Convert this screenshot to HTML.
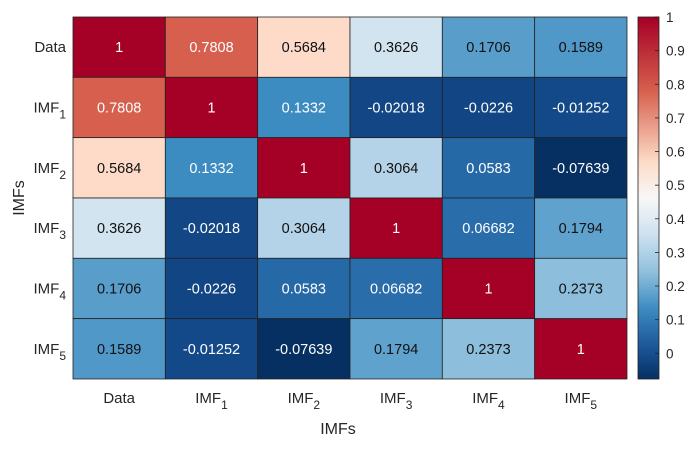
<!DOCTYPE html>
<html><head><meta charset="utf-8"><style>
body{margin:0;background:#fff;font-family:"Liberation Sans",Arial,sans-serif}
svg text{font-family:"Liberation Sans",Arial,sans-serif}
</style></head><body>
<svg id="chart" width="694" height="444">
<defs><linearGradient id="cbg" x1="0" y1="1" x2="0" y2="0"></linearGradient></defs>
<g id="cells"></g><g id="rowlabels"></g><g id="collabels"></g>
<rect x="638" y="17" width="21" height="362" fill="url(#cbg)" stroke="#222" stroke-width="0.8"/>
<g id="cbticks"></g>
<text x="338" y="434" font-size="16" fill="#262626" text-anchor="middle">IMFs</text>
<text transform="translate(24,198) rotate(-90)" font-size="16" fill="#262626" text-anchor="middle">IMFs</text>
</svg>
<script>
const labels = ["Data","IMF1","IMF2","IMF3","IMF4","IMF5"];
const row0 = [1,0.7808,0.5684,0.3626,0.1706,0.1589];
const row1 = [0.7808,1,0.1332,-0.02018,-0.0226,-0.01252];
const row2 = [0.5684,0.1332,1,0.3064,0.0583,-0.07639];
const row3 = [0.3626,-0.02018,0.3064,1,0.06682,0.1794];
const row4 = [0.1706,-0.0226,0.0583,0.06682,1,0.2373];
const row5 = [0.1589,-0.01252,-0.07639,0.1794,0.2373,1];
const cbTicks = [0,0.1,0.2,0.3,0.4,0.5,0.6,0.7,0.8,0.9,1];
const rows=[row0,row1,row2,row3,row4,row5];
const vmin=-0.07639, vmax=1;
const stops=[[-0.07639,[5,48,97]],[0,[22,78,145]],[0.13,[58,138,193]],[0.24,[143,192,221]],[0.36,[209,227,240]],[0.46,[247,247,247]],[0.57,[253,219,199]],[0.78,[214,96,77]],[1,[165,0,38]]];
function color(v){for(let i=0;i<stops.length-1;i++){const a=stops[i],b=stops[i+1];if(v<=b[0]||i==stops.length-2){let t=(v-a[0])/(b[0]-a[0]);t=Math.max(0,Math.min(1,t));return 'rgb('+a[1].map((c,k)=>Math.round(c+(b[1][k]-c)*t)).join(',')+')';}}}
const NS="http://www.w3.org/2000/svg";
const X0=73,Y0=17,CW=92.33,CH=60.33;
const xs=i=>X0+i*CW, ys=j=>Y0+j*CH;
function el(t,a,p,txt){const e=document.createElementNS(NS,t);for(const k in a)e.setAttribute(k,a[k]);if(txt!=null)e.textContent=txt;p.appendChild(e);return e;}
function lab(p,name,x,y,anchor){const t=el('text',{x:x,y:y,'font-size':15,fill:'#262626','text-anchor':anchor},p);
 if(name.startsWith('IMF')){t.appendChild(document.createTextNode('IMF'));const s=el('tspan',{dy:6,'font-size':12},t,name.slice(3));}else t.textContent=name;return t;}
const cg=document.getElementById('cells');
rows.forEach((r,j)=>r.forEach((v,i)=>{
 const rc=el('rect',{x:xs(i),y:ys(j),width:CW,height:CH,fill:color(v),stroke:'#222','stroke-width':0.8},cg);
 
 
 const t=el('text',{x:xs(i)+CW/2,y:ys(j)+CH/2+5,'font-size':14.5,'text-anchor':'middle',fill:(v<0.15||v>0.7)?'#fff':'#111'},cg,String(v));
 
 
}));
const rl=document.getElementById('rowlabels'),cl=document.getElementById('collabels');
labels.forEach((n,j)=>{const t=lab(rl,n,66,ys(j)+CH/2+5,'end');
 
 });
labels.forEach((n,i)=>{const t=lab(cl,n,xs(i)+CW/2,403,'middle');
 
 });
const g=document.getElementById('cbg');
for(let k=0;k<=20;k++){const v=vmin+(vmax-vmin)*k/20;el('stop',{offset:(k/20),'stop-color':color(v)},g);}
const cy=v=>379-(v-vmin)/(vmax-vmin)*362;
const tg=document.getElementById('cbticks');
cbTicks.forEach(v=>{el('line',{x1:655,x2:659,y1:cy(v),y2:cy(v),stroke:'#222','stroke-width':0.8},tg);
 const t=el('text',{x:666,y:cy(v)+5,'font-size':13.5,fill:'#262626'},tg,String(v));
 
 });
</script>
</body></html>
